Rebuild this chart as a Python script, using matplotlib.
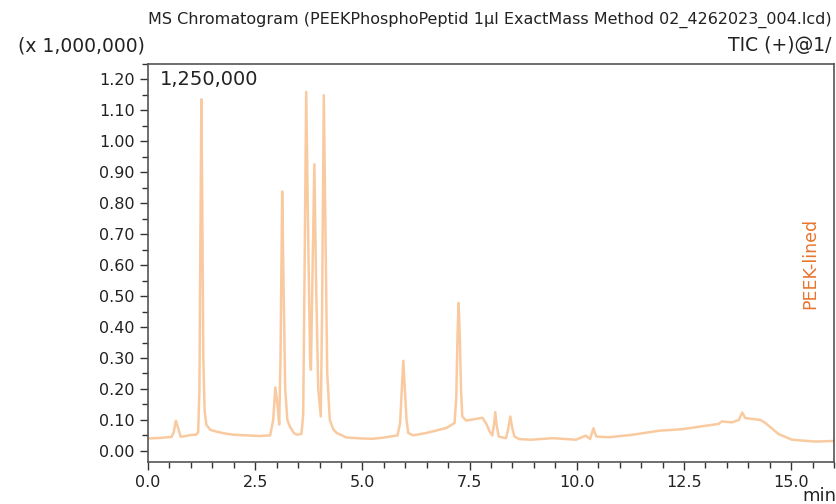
import matplotlib.pyplot as plt
from matplotlib.ticker import MultipleLocator, FormatStrFormatter

# retention time (min) and intensity (x 1,000,000)
rt = [0.00, 0.30, 0.55, 0.60, 0.65, 0.70, 0.76, 0.85, 0.95, 1.05, 1.12, 1.17,
      1.20, 1.22, 1.245, 1.265, 1.29, 1.32, 1.36, 1.45, 1.60, 1.80, 2.00, 2.30,
      2.60, 2.85, 2.92, 2.97, 3.02, 3.06, 3.09, 3.13, 3.16, 3.20, 3.25, 3.31,
      3.40, 3.47, 3.58, 3.62, 3.65, 3.69, 3.73, 3.78, 3.80, 3.84, 3.88, 3.92,
      3.97, 4.03, 4.06, 4.10, 4.14, 4.18, 4.24, 4.32, 4.40, 4.63, 5.00, 5.24,
      5.50, 5.82, 5.88, 5.92, 5.955, 5.99, 6.03, 6.07, 6.18, 6.50, 6.96, 7.15,
      7.19, 7.22, 7.245, 7.27, 7.30, 7.33, 7.42, 7.60, 7.80, 7.90, 7.97, 8.03,
      8.07, 8.10, 8.13, 8.18, 8.35, 8.40, 8.45, 8.50, 8.55, 8.66, 8.93, 9.44,
      9.98, 10.21, 10.31, 10.36, 10.39, 10.43, 10.46, 10.76, 11.30, 11.92,
      12.46, 13.00, 13.31, 13.38, 13.62, 13.78, 13.86, 13.93, 14.28, 14.40,
      14.71, 15.02, 15.56, 16.00]
intensity = [0.040, 0.042, 0.045, 0.060, 0.097, 0.075, 0.046, 0.047, 0.050, 0.052, 0.052, 0.060,
             0.20, 0.65, 1.136, 0.80, 0.30, 0.13, 0.085, 0.068, 0.062, 0.056, 0.052, 0.050,
             0.048, 0.050, 0.10, 0.205, 0.15, 0.085, 0.30, 0.838, 0.55, 0.20, 0.10, 0.078,
             0.058, 0.052, 0.055, 0.12, 0.55, 1.16, 0.75, 0.30, 0.262, 0.60, 0.926, 0.55,
             0.20, 0.111, 0.45, 1.149, 0.70, 0.25, 0.10, 0.07, 0.058, 0.043, 0.040, 0.039,
             0.043, 0.050, 0.09, 0.20, 0.291, 0.20, 0.10, 0.058, 0.050, 0.058, 0.074, 0.090,
             0.17, 0.38, 0.478, 0.38, 0.20, 0.111, 0.098, 0.102, 0.107, 0.085, 0.062, 0.050,
             0.085, 0.125, 0.085, 0.046, 0.041, 0.07, 0.111, 0.07, 0.046, 0.038, 0.036, 0.041,
             0.036, 0.049, 0.038, 0.060, 0.073, 0.055, 0.046, 0.044, 0.052, 0.065,
             0.070, 0.081, 0.087, 0.095, 0.092, 0.100, 0.124, 0.106, 0.100, 0.090,
             0.054, 0.036, 0.030, 0.032]

title = "MS Chromatogram (PEEKPhosphoPeptid 1µl ExactMass Method 02_4262023_004.lcd)"
label = "PEEK-lined"

fig = plt.figure(figsize=(8.36, 5.04), dpi=100)
ax = fig.add_axes([148/836, 42/504, (834-148)/836, (462-64)/504])

ax.plot(rt, intensity, color='#f6a860', alpha=0.6, lw=1.8, solid_joinstyle='round')

ax.set_xlim(0, 16)
ax.set_ylim(-0.036, 1.25)
ax.xaxis.set_major_locator(MultipleLocator(2.5))
ax.xaxis.set_minor_locator(MultipleLocator(0.5))
ax.yaxis.set_major_locator(MultipleLocator(0.1))
ax.yaxis.set_minor_locator(MultipleLocator(0.05))
ax.xaxis.set_major_formatter(FormatStrFormatter('%.1f'))
ax.yaxis.set_major_formatter(FormatStrFormatter('%.2f'))
ax.tick_params(which='major', direction='out', length=6, width=1, colors='#333333',
               labelsize=11.5, labelcolor='#222222')
ax.tick_params(which='minor', direction='out', length=4, width=1, colors='#333333')
for s in ax.spines.values():
    s.set_color('#555555')
    s.set_linewidth(1.2)

ax.text(0.018, 0.985, "1,250,000", transform=ax.transAxes, fontsize=14,
        ha='left', va='top', color='#222222')
ax.text(0.965, 0.5, label, transform=ax.transAxes, fontsize=12.5, rotation=90,
        ha='center', va='center', color='#e8752c')

fig.text(832/836, 1 - 20/504, title, fontsize=11.5,
         ha='right', va='center', color='#222222')
fig.text(18/836, 1 - 46/504, "(x 1,000,000)", fontsize=13.5,
         ha='left', va='center', color='#222222')
fig.text(832/836, 1 - 46/504, "TIC (+)@1/", fontsize=13.5,
         ha='right', va='center', color='#222222')
fig.text(836/836, 1 - 487/504, "min", fontsize=13, ha='right', va='top',
         color='#222222')

fig.savefig('out.png', dpi=100)
